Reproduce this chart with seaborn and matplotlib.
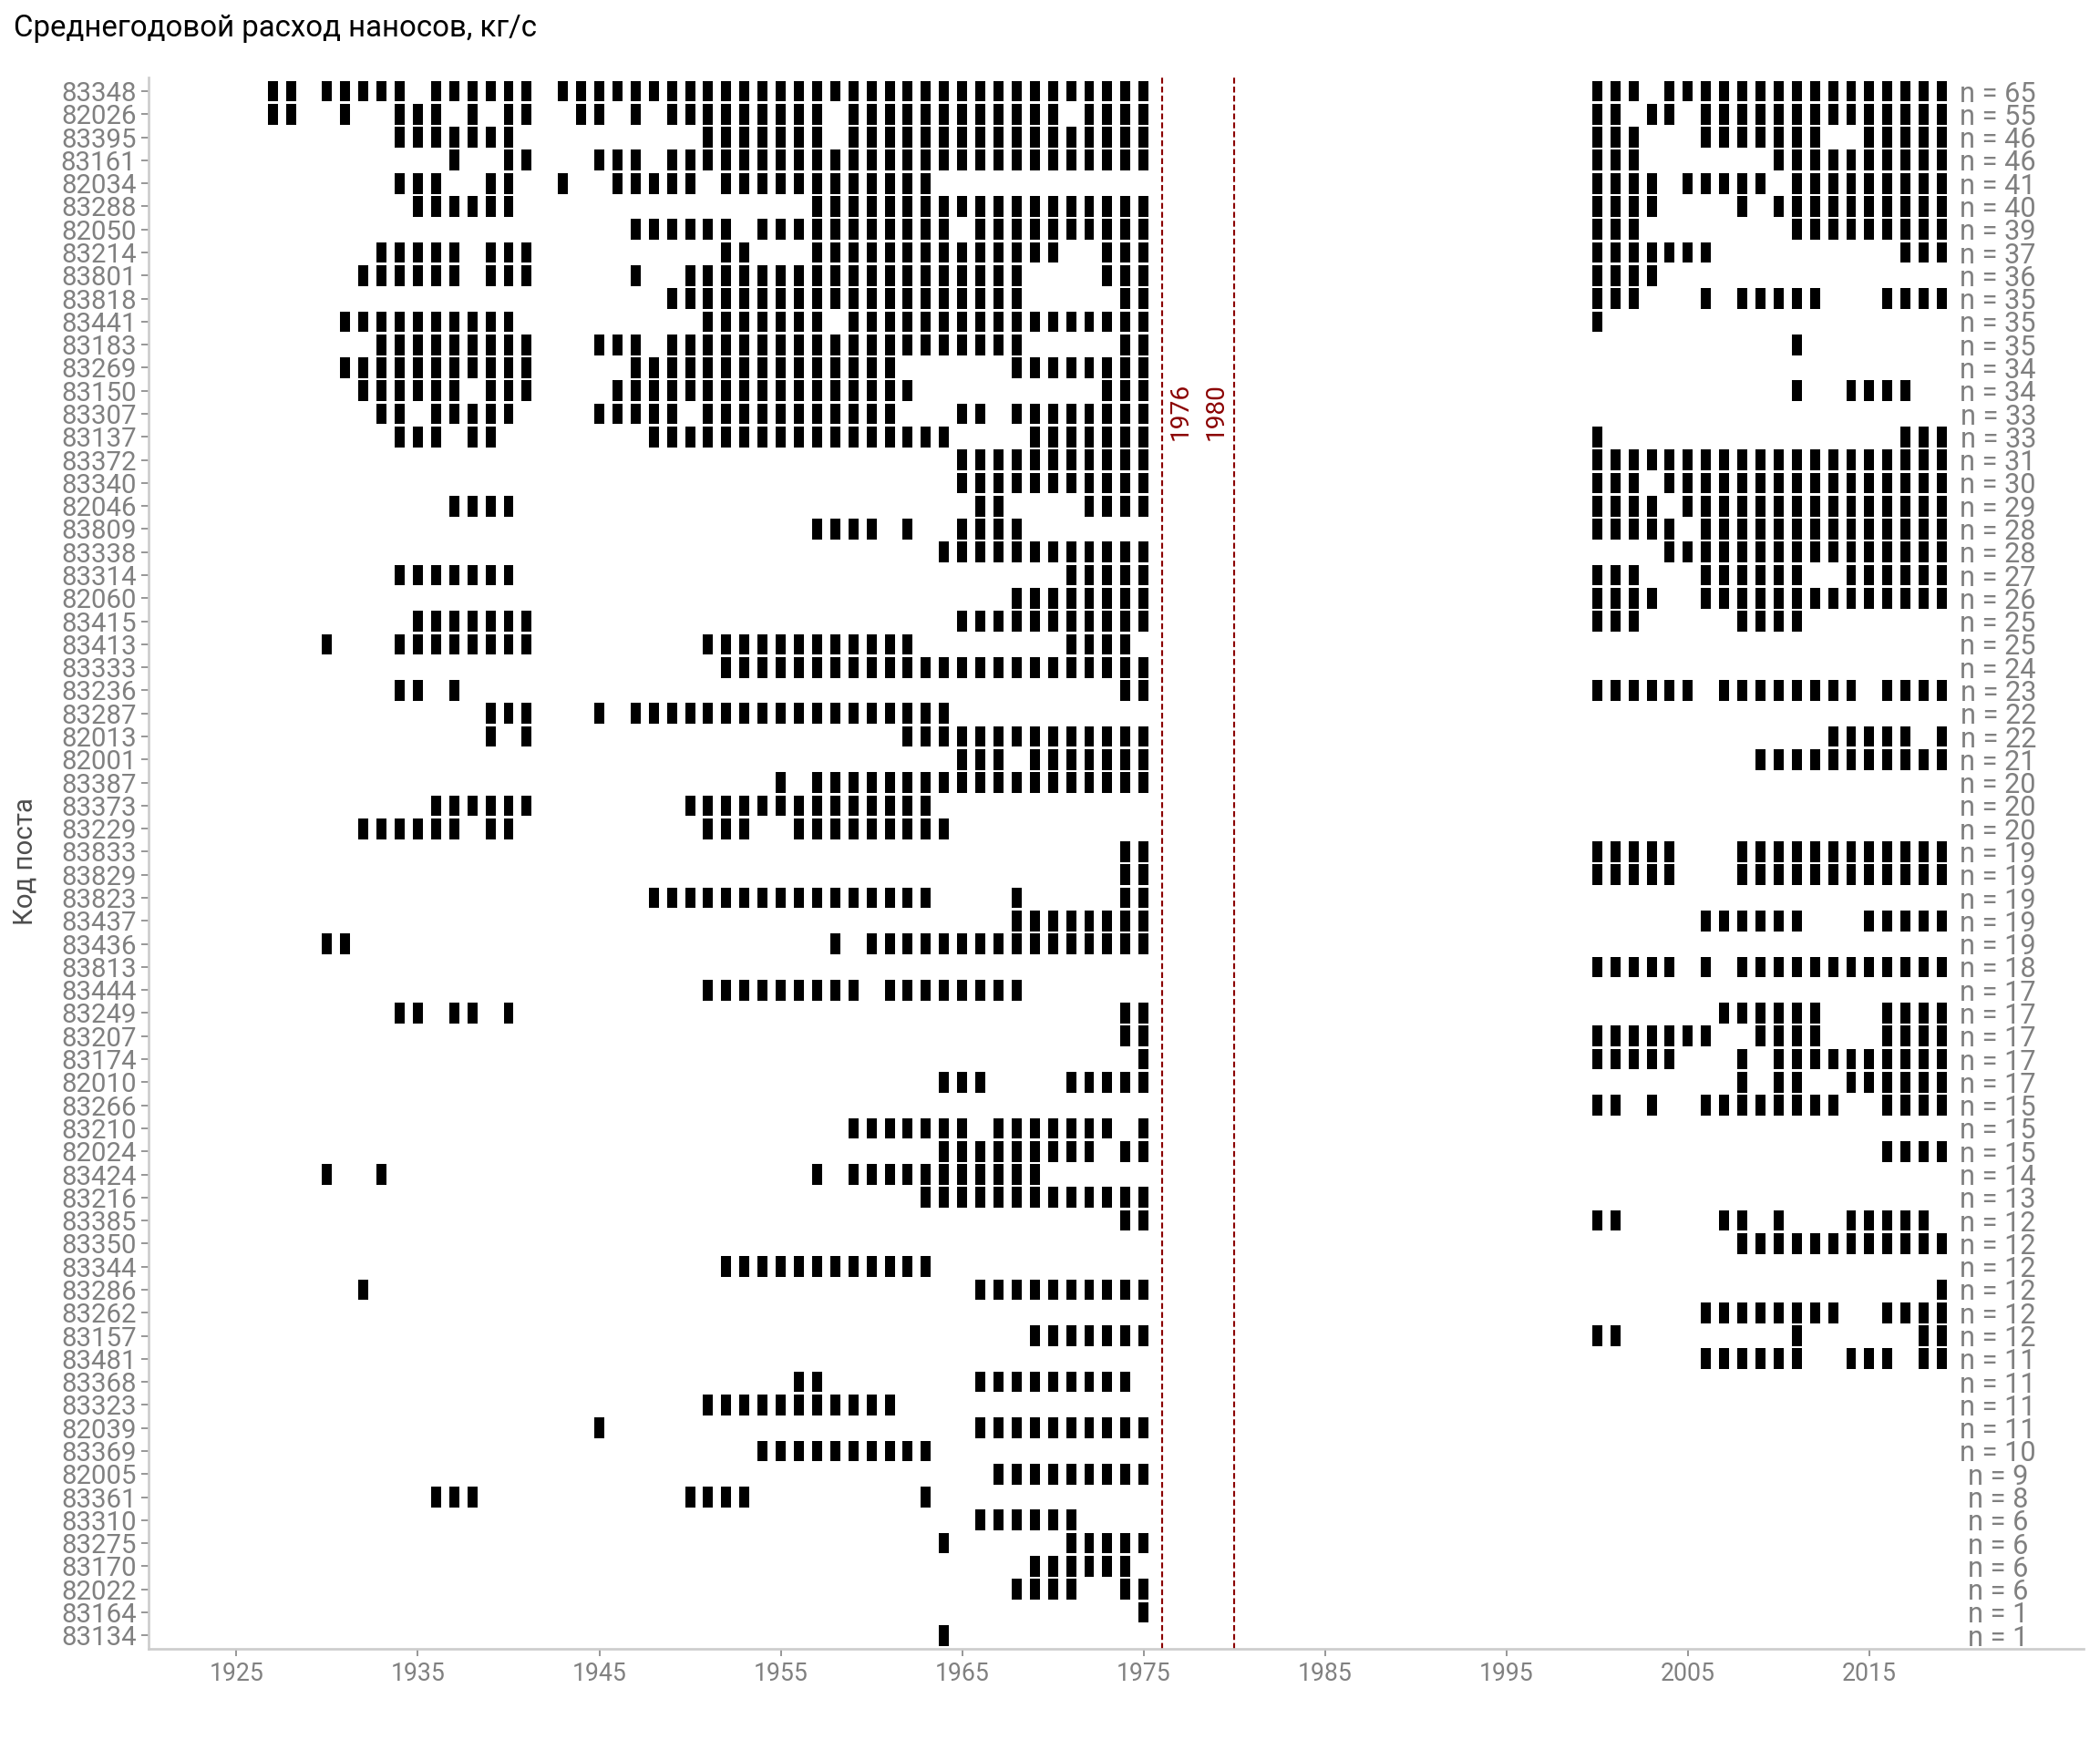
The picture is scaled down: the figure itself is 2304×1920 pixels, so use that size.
import numpy as np
import pandas as pd
import matplotlib
matplotlib.use("Agg")
import matplotlib.pyplot as plt
from matplotlib.path import Path
import seaborn as sns

# ---------------- data ----------------
stations = [
    "83348", "82026", "83395", "83161", "82034", "83288", "82050", "83214", "83801", "83818",
    "83441", "83183", "83269", "83150", "83307", "83137", "83372", "83340", "82046", "83809",
    "83338", "83314", "82060", "83415", "83413", "83333", "83236", "83287", "82013", "82001",
    "83387", "83373", "83229", "83833", "83829", "83823", "83437", "83436", "83813", "83444",
    "83249", "83207", "83174", "82010", "83266", "83210", "82024", "83424", "83216", "83385",
    "83350", "83344", "83286", "83262", "83157", "83481", "83368", "83323", "82039", "83369",
    "82005", "83361", "83310", "83275", "83170", "82022", "83164", "83134",
]

# years with observations for each station (ranges inclusive)
observed_years = [
    "1927-1928,1930-1934,1936-1941,1943-1975,2000-2002,2004-2019",
    "1927-1928,1931,1934-1936,1938,1940-1941,1944-1945,1947,1949-1957,1959-1970,1972-1975,2000-2001,2003-2004,2006-2019",
    "1934-1940,1951-1957,1959-1975,2000-2002,2006-2012,2015-2019",
    "1937,1940-1941,1945-1947,1949-1975,2000-2002,2010-2019",
    "1934-1936,1939-1940,1943,1946-1950,1952-1963,2000-2003,2005-2009,2011-2019",
    "1935-1940,1957-1975,2000-2003,2008,2010-2019",
    "1947-1952,1954-1964,1966-1975,2000-2002,2011-2019",
    "1933-1937,1939-1941,1952-1953,1957-1970,1973-1975,2000-2006,2017-2019",
    "1932-1937,1939-1941,1947,1950-1968,1973-1975,2000-2003",
    "1949-1968,1974-1975,2000-2002,2006,2008-2012,2016-2019",
    "1931-1940,1951-1957,1959-1975,2000",
    "1933-1941,1945-1947,1949-1968,1974-1975,2011",
    "1931-1941,1947-1961,1968-1975",
    "1932-1937,1939-1941,1946-1962,1973-1975,2011,2014-2017",
    "1933-1934,1936-1940,1945-1949,1951-1961,1965-1966,1968-1975",
    "1934-1936,1938-1939,1948-1964,1969-1975,2000,2017-2019",
    "1965-1975,2000-2019",
    "1965-1975,2000-2002,2004-2019",
    "1937-1940,1966-1967,1972-1975,2000-2003,2005-2019",
    "1957-1960,1962,1965-1968,2000-2004,2006-2019",
    "1964-1975,2004-2019",
    "1934-1940,1971-1975,2000-2002,2006-2011,2014-2019",
    "1968-1975,2000-2003,2006-2019",
    "1935-1941,1965-1975,2000-2002,2008-2011",
    "1930,1934-1941,1951-1962,1971-1974",
    "1952-1975",
    "1934-1935,1937,1974-1975,2000-2005,2007-2014,2016-2019",
    "1939-1941,1945,1947-1964",
    "1939,1941,1962-1975,2013-2017,2019",
    "1965-1967,1969-1975,2009-2019",
    "1955,1957-1975",
    "1936-1941,1950-1963",
    "1932-1937,1939-1940,1951-1953,1956-1964",
    "1974-1975,2000-2004,2008-2019",
    "1974-1975,2000-2004,2008-2019",
    "1948-1963,1968,1974-1975",
    "1968-1975,2006-2011,2015-2019",
    "1930-1931,1958,1960-1975",
    "2000-2004,2006,2008-2019",
    "1951-1959,1961-1968",
    "1934-1935,1937-1938,1940,1974-1975,2007-2012,2016-2019",
    "1974-1975,2000-2006,2009-2012,2016-2019",
    "1975,2000-2004,2008,2010-2019",
    "1964-1966,1971-1975,2008,2010-2011,2014-2019",
    "2000-2001,2003,2006-2013,2016-2019",
    "1959-1965,1967-1973,1975",
    "1964-1972,1974-1975,2016-2019",
    "1930,1933,1957,1959-1969",
    "1963-1975",
    "1974-1975,2000-2001,2007-2008,2010,2014-2018",
    "2008-2019",
    "1952-1963",
    "1932,1966-1975,2019",
    "2006-2013,2016-2019",
    "1969-1975,2000-2001,2011,2018-2019",
    "2006-2011,2014-2016,2018-2019",
    "1956-1957,1966-1974",
    "1951-1961",
    "1945,1966-1975",
    "1954-1963",
    "1967-1975",
    "1936-1938,1950-1953,1963",
    "1966-1971",
    "1964,1971-1975",
    "1969-1974",
    "1968-1971,1974-1975",
    "1975",
    "1964",
]

break_years = [1976, 1980]
break_labels = ["1976", "1980"]
x_ticks = [1925, 1935, 1945, 1955, 1965, 1975, 1985, 1995, 2005, 2015]
title_text = "Среднегодовой расход наносов, кг/с"
y_title = "Код поста"


def expand(spec):
    out = []
    for part in spec.split(","):
        if "-" in part:
            a, b = part.split("-")
            out.extend(range(int(a), int(b) + 1))
        else:
            out.append(int(part))
    return out


records = []
for i, (st, spec) in enumerate(zip(stations, observed_years)):
    for yr in expand(spec):
        records.append({"station": st, "row": i, "year": yr})
df = pd.DataFrame(records)
counts = df.groupby("row").size()

# ---------------- plot ----------------
sns.set_theme(style="white")
plt.rcParams["font.family"] = ["Roboto", "DejaVu Sans"]

DPI = 192
fig = plt.figure(figsize=(12, 10), dpi=DPI)
ax = fig.add_axes([0.0707, 0.0576, 0.9214, 0.8982])

bar_w_px, bar_h_px = 10.95, 22.8
verts = np.array([
    (-bar_w_px / 2, -bar_h_px / 2), (bar_w_px / 2, -bar_h_px / 2),
    (bar_w_px / 2, bar_h_px / 2), (-bar_w_px / 2, bar_h_px / 2),
    (-bar_w_px / 2, -bar_h_px / 2),
])
rect_marker = Path(verts, closed=True)
size_pt = bar_h_px * 72 / DPI

sns.scatterplot(data=df, x="year", y="row", marker=rect_marker, s=size_pt ** 2,
                color="black", linewidth=0, edgecolor="none", ax=ax, legend=False)

ax.set_xlim(1920.15, 2026.8)
ax.set_ylim(len(stations) - 1 + 0.6, -0.6)
ax.set_yticks(range(len(stations)))
ax.set_yticklabels(stations)
ax.set_xticks(x_ticks)
ax.set_xticklabels([str(t) for t in x_ticks])
ax.set_xlabel("")
ax.set_ylabel("")

for yr in break_years:
    ax.axvline(yr, color="#8b0000", lw=0.8, ls=(0, (3, 1.6)), zorder=1)
for xpos, lab in zip([1977.05, 1979.0], break_labels):
    ax.text(xpos, 13.9, lab, rotation=90, ha="center", va="center",
            color="#8b0000", fontsize=10.5)

for i, n in counts.items():
    ax.text(2022.1, i, f"n = {n}", ha="center", va="center_baseline",
            color="#808080", fontsize=11.5)

for side in ["top", "right"]:
    ax.spines[side].set_visible(False)
for side in ["left", "bottom"]:
    ax.spines[side].set_color("#cccccc")
    ax.spines[side].set_linewidth(1.0)

ax.tick_params(axis="both", which="major", colors="#999999", labelcolor="#808080",
               labelsize=10, length=3, width=0.75, pad=2.2, left=True, bottom=True)
ax.tick_params(axis="y", labelsize=11, pad=2.0)
ax.grid(False)

fig.text(0.0065, 0.9793, title_text, fontsize=12.4, color="black", va="baseline", ha="left")
fig.text(0.0121, 0.508, y_title, rotation=90, ha="center", va="center",
         fontsize=11, color="#4d4d4d")

fig.savefig("out.png", dpi=DPI, facecolor="white")
